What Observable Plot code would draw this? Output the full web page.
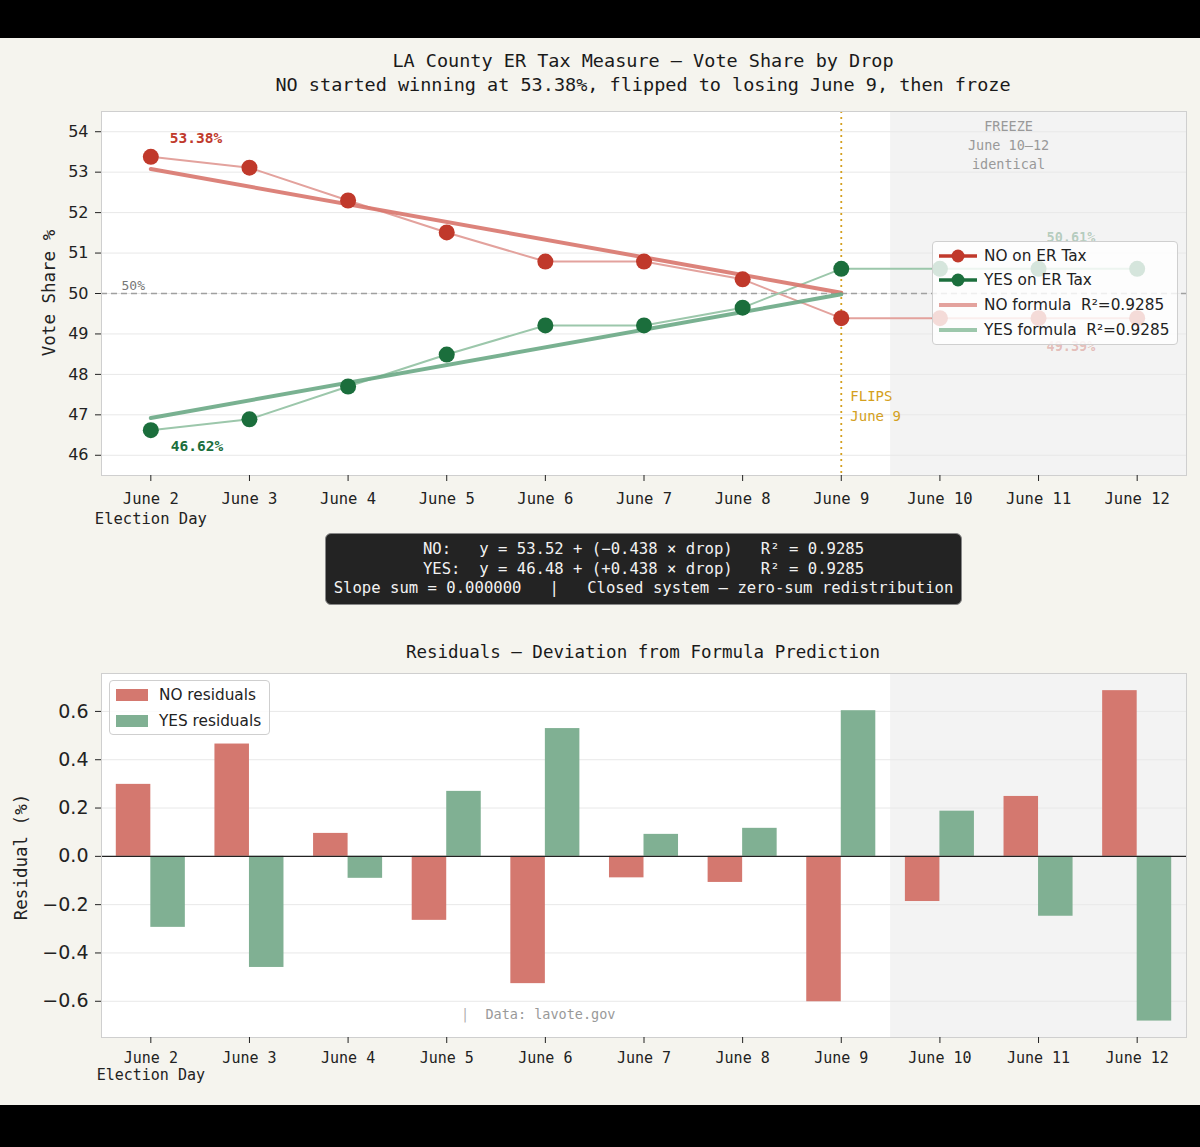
<!DOCTYPE html>
<html><head><meta charset="utf-8">
<script src="https://cdn.jsdelivr.net/npm/d3@7"></script>
<script src="https://cdn.jsdelivr.net/npm/@observablehq/plot@0.6"></script>
<style>
body{margin:0;background:#000;}
#page{position:relative;width:1200px;height:1147px;background:#000;overflow:hidden;}
#cream{position:absolute;left:0;top:38px;width:1200px;height:1067px;background:#f5f4ee;}
.abs{position:absolute;}
.mono{font-family:"DejaVu Sans Mono",monospace;}
.sans{font-family:"DejaVu Sans",sans-serif;}
.title{left:0;width:1286px;text-align:center;color:#1a1a1a;font-size:18.5px;white-space:pre;}
.rot{transform:translate(-50%,-50%) rotate(-90deg);white-space:pre;color:#222;}
.legend{background:rgba(255,255,255,0.82);border:1px solid #cfcfcf;border-radius:4px;box-sizing:border-box;}
.li{position:absolute;left:0;height:24px;display:flex;align-items:center;font-size:15.3px;color:#222;white-space:pre;}
#formula{left:325px;top:533px;width:637px;height:72px;background:#232323;border:1.5px solid #888;border-radius:6px;box-sizing:border-box;color:#f2f2f2;font-size:15.6px;line-height:19.5px;text-align:center;white-space:pre;padding-top:6px;}
svg{overflow:visible;}
</style></head>
<body><div id="page"><div id="cream"></div></div>
<script>
// ---------- data ----------
const dates = ["June 2","June 3","June 4","June 5","June 6","June 7","June 8","June 9","June 10","June 11","June 12"];
const dateNote = "Election Day";
const noShare  = [53.38,53.11,52.30,51.51,50.79,50.79,50.35,49.39,49.39,49.39,49.39];
const yesShare = [46.62,46.89,47.70,48.49,49.21,49.21,49.65,50.61,50.61,50.61,50.61];
const noFit  = [53.08,50.02];   // formula line, June 2 -> June 9
const yesFit = [46.92,49.98];
const noResid  = [0.298,0.465,0.095,-0.265,-0.527,-0.089,-0.108,-0.602,-0.187,0.248,0.686];
const yesResid = [-0.294,-0.460,-0.091,0.269,0.529,0.091,0.116,0.603,0.187,-0.248,-0.682];
const flipDate = "June 9";
const freezeFrom = "June 10";
const shareTicks = [46,47,48,49,50,51,52,53,54];
const residTicks = [-0.6,-0.4,-0.2,0,0.2,0.4,0.6];
const noColor = "#c0392b", yesColor = "#1b6e3c";
const noLine = "#e3a29d", yesLine = "#9cc7ab";
const noFitC = "#d8756d", yesFitC = "#6aa985";
const noBar = "#d4786f", yesBar = "#80b093";

// ---------- derived ----------
const rows = dates.map((d,i)=>({drop:i+1,date:d,no:noShare[i],yes:yesShare[i],noR:noResid[i],yesR:yesResid[i]}));
const flipIdx = dates.indexOf(flipDate)+1;
const freezeIdx = dates.indexOf(freezeFrom)+1;
const xDomain = [0.5, dates.length+0.5];
const xTicks = rows.map(r=>r.drop);
const fitRows = [{drop:1,no:noFit[0],yes:yesFit[0]},{drop:flipIdx,no:noFit[1],yes:yesFit[1]}];
const fmtX = i => i===1 ? dates[0]+"\n"+dateNote : dates[i-1];
const mono = "DejaVu Sans Mono", sans = "DejaVu Sans";
const page = document.getElementById("page");
function add(html){page.insertAdjacentHTML("beforeend",html);}

// titles
add(`<div class="abs mono title" style="top:50px">LA County ER Tax Measure — Vote Share by Drop</div>`);
add(`<div class="abs mono title" style="top:74px">NO started winning at ${noShare[0].toFixed(2)}%, flipped to losing ${flipDate}, then froze</div>`);

// ---------- top chart ----------
const topPlot = Plot.plot({
  width:1200, height:430, marginLeft:101, marginRight:14, marginTop:11, marginBottom:55,
  style:{background:"transparent", color:"#222"},
  x:{domain:xDomain}, y:{domain:[45.5,54.5]},
  marks:[
    Plot.frame({fill:"white", stroke:null}),
    Plot.rect([0],{x1:freezeIdx-0.5, x2:xDomain[1], fill:"#f3f3f3"}),
    Plot.gridY(shareTicks,{stroke:"#e8e8e8", strokeOpacity:1}),
    Plot.ruleY([50],{stroke:"#a0a0a0", strokeDasharray:"6,4", strokeWidth:1.3}),
    Plot.ruleX([flipIdx],{stroke:"#d4a020", strokeDasharray:"2,4", strokeWidth:1.8}),
    Plot.line(rows,{x:"drop",y:"no",stroke:noLine,strokeWidth:2}),
    Plot.line(rows,{x:"drop",y:"yes",stroke:yesLine,strokeWidth:2}),
    Plot.line(fitRows,{x:"drop",y:"no",stroke:noFitC,strokeWidth:4,strokeOpacity:0.9}),
    Plot.line(fitRows,{x:"drop",y:"yes",stroke:yesFitC,strokeWidth:4,strokeOpacity:0.9}),
    Plot.dot(rows,{x:"drop",y:"no",r:8,fill:noColor}),
    Plot.dot(rows,{x:"drop",y:"yes",r:8,fill:yesColor}),
    Plot.text([rows[0]],{x:"drop",y:"no",text:d=>d.no.toFixed(2)+"%",dx:19,dy:-18,textAnchor:"start",fill:noColor,fontWeight:"bold",fontSize:14.5,fontFamily:mono}),
    Plot.text([rows[0]],{x:"drop",y:"yes",text:d=>d.yes.toFixed(2)+"%",dx:20,dy:16,textAnchor:"start",fill:yesColor,fontWeight:"bold",fontSize:14.5,fontFamily:mono}),
    Plot.text([rows[dates.length-2]],{x:"drop",y:"yes",text:d=>d.yes.toFixed(2)+"%",dx:8,dy:-31,textAnchor:"start",fill:yesColor,fillOpacity:0.3,fontWeight:"bold",fontSize:13.5,fontFamily:mono}),
    Plot.text([rows[dates.length-2]],{x:"drop",y:"no",text:d=>d.no.toFixed(2)+"%",dx:8,dy:29,textAnchor:"start",fill:noColor,fillOpacity:0.3,fontWeight:"bold",fontSize:13.5,fontFamily:mono}),
    Plot.text(["50%"],{frameAnchor:"left",y:[50],text:d=>d,dx:20,dy:-8,textAnchor:"start",fill:"#777",fontSize:13,fontFamily:mono}),
    Plot.text([`FREEZE\n${freezeFrom}–${dates[dates.length-1].replace("June ","")}\nidentical`],{x:[(freezeIdx-0.5+xDomain[1])/2],frameAnchor:"top",text:d=>d,dx:-30,dy:6,lineAnchor:"top",lineHeight:1.42,fill:"#999",fontSize:13.5,fontFamily:mono}),
    Plot.text([`FLIPS\n${flipDate}`],{x:[flipIdx],y:[47.25],text:d=>d,dx:9,textAnchor:"start",lineAnchor:"middle",lineHeight:1.4,fill:"#d4a020",fontSize:14,fontFamily:mono}),
    Plot.frame({stroke:"#cfcfcf"}),
    Plot.axisY({ticks:shareTicks,tickSize:6,tickPadding:7,fontSize:16,fontFamily:sans,label:null}),
    Plot.axisX({ticks:xTicks,tickFormat:fmtX,tickSize:6,tickPadding:8,fontSize:15.5,fontFamily:mono,lineHeight:1.3,label:null})
  ]
});
topPlot.style.position="absolute"; topPlot.style.left="0px"; topPlot.style.top="100px";
page.appendChild(topPlot);
add(`<div class="abs mono rot" style="left:49px;top:293px;font-size:17.5px">Vote Share %</div>`);

// top legend
function lgItem(top, color, dot, width, label){
  return `<div class="li sans" style="top:${top}px"><svg width="47" height="24" style="margin-left:4px"><line x1="2" x2="40" y1="12" y2="12" stroke="${color}" stroke-width="${width}"/>${dot?`<circle cx="21" cy="12" r="6.5" fill="${color}"/>`:""}</svg>${label}</div>`;
}
add(`<div class="abs legend" style="left:932px;top:241px;width:246px;height:104px">
${lgItem(2,noColor,true,3.5,"NO on ER Tax")}
${lgItem(26,yesColor,true,3.5,"YES on ER Tax")}
${lgItem(51,noLine,false,4,"NO formula  R²=0.9285")}
${lgItem(76,yesLine,false,4,"YES formula  R²=0.9285")}
</div>`);

// formula box
add(`<div class="abs mono" id="formula">NO:   y = 53.52 + (−0.438 × drop)   R² = 0.9285
YES:  y = 46.48 + (+0.438 × drop)   R² = 0.9285
Slope sum = 0.000000   |   Closed system — zero-sum redistribution</div>`);

// ---------- residual chart ----------
add(`<div class="abs mono title" style="top:642px;font-size:17.5px">Residuals — Deviation from Formula Prediction</div>`);
const barW = 0.35;
const resPlot = Plot.plot({
  width:1200, height:430, marginLeft:101, marginRight:14, marginTop:13, marginBottom:53,
  style:{background:"transparent", color:"#222"},
  x:{domain:xDomain}, y:{domain:[-0.75,0.757]},
  marks:[
    Plot.frame({fill:"white", stroke:null}),
    Plot.rect([0],{x1:freezeIdx-0.5, x2:xDomain[1], fill:"#f3f3f3"}),
    Plot.gridY(residTicks,{stroke:"#e8e8e8", strokeOpacity:1}),
    Plot.rect(rows,{x1:d=>d.drop-barW,x2:d=>d.drop,y1:0,y2:"noR",fill:noBar}),
    Plot.rect(rows,{x1:d=>d.drop,x2:d=>d.drop+barW,y1:0,y2:"yesR",fill:yesBar}),
    Plot.ruleY([0],{stroke:"#222",strokeWidth:1.4}),
    Plot.frame({stroke:"#cfcfcf"}),
    Plot.axisY({ticks:residTicks,tickFormat:d3.format(".1f"),tickSize:6,tickPadding:7,fontSize:19,fontFamily:sans,label:null}),
    Plot.axisX({ticks:xTicks,tickFormat:fmtX,tickSize:6,tickPadding:7,fontSize:15,fontFamily:mono,lineHeight:1.15,label:null})
  ]
});
resPlot.style.position="absolute"; resPlot.style.left="0px"; resPlot.style.top="660px";
page.appendChild(resPlot);
add(`<div class="abs mono rot" style="left:21px;top:857px;font-size:17.5px">Residual (%)</div>`);

// residual legend
function swatch(top,color,label){
  return `<div class="li sans" style="top:${top}px"><svg width="45" height="24" style="margin-left:4px"><rect x="2" y="6" width="32" height="12" fill="${color}"/></svg>${label}</div>`;
}
add(`<div class="abs legend" style="left:109px;top:680px;width:161px;height:55px">
${swatch(2,noBar,"NO residuals")}
${swatch(28,yesBar,"YES residuals")}
</div>`);

// source note
add(`<div class="abs mono" style="left:461px;top:1006px;font-size:13.5px;color:#b0b0b0;white-space:pre">|  <span style="color:#999">Data: lavote.gov</span></div>`);
</script>
</body></html>
